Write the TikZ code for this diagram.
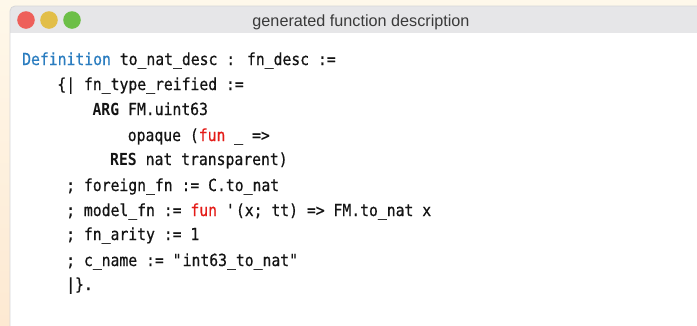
\documentclass[tikz,border=0pt]{standalone}
\usepackage{fontspec}
\setmainfont{Liberation Sans}
\newfontfamily\codefont[FakeStretch=0.888, UprightFeatures={FakeBold=0.6}]{DejaVu Sans Mono}

\definecolor{bgtop}{HTML}{FEF8EA}
\definecolor{bgbottom}{HTML}{FDE9D2}
\definecolor{titlebar}{HTML}{E6E6E8}
\definecolor{frameline}{HTML}{D6D6D8}
\definecolor{titletext}{HTML}{3A3A3A}
\definecolor{lightred}{HTML}{EE605A}
\definecolor{lightyellow}{HTML}{E2BE48}
\definecolor{lightgreen}{HTML}{6CBF47}
\definecolor{kwblue}{HTML}{2B7DC0}
\definecolor{kwred}{HTML}{E41B17}
\definecolor{codeink}{HTML}{141414}

\newcommand{\kwdef}[1]{\textcolor{kwblue}{#1}}
\newcommand{\kwfun}[1]{\textcolor{kwred}{#1}}
\newcommand{\kwbold}[1]{\textbf{#1}}

\tikzset{
  codeline/.style={anchor=base west, inner sep=0pt, text=codeink,
    font=\codefont\fontsize{16.6}{20}\selectfont},
  titlelabel/.style={anchor=base, inner sep=0pt, text=titletext,
    font=\fontsize{16.2}{19}\selectfont},
  lamp/.style={circle, inner sep=0pt, minimum size=17.6pt}
}

\begin{document}
\begin{tikzpicture}[x=1pt,y=-1pt]
  % page background
  \useasboundingbox (0,0) rectangle (697,325);
  \shade[top color=bgtop, bottom color=bgbottom] (0,0) rectangle (697,325);

  % window body and title bar
  \begin{scope}
    \clip[rounded corners=5pt] (10,6) rectangle (730,360);
    \fill[white] (10,6) rectangle (730,360);
    \fill[titlebar] (10,6) rectangle (730,33);
  \end{scope}
  \draw[frameline, line width=0.8pt, rounded corners=5pt] (10,360) -- (10,6) -- (730,6);

  % window controls
  \node[lamp, fill=lightred]    (close) at (26,20) {};
  \node[lamp, fill=lightyellow] (mini)  at (49,20) {};
  \node[lamp, fill=lightgreen]  (zoom)  at (72,20) {};
  \node[titlelabel] (title) at (361,26.5) {generated function description};

  % source text, one node per line, columns of 8.8 units
  \node[codeline] (l0) at (22,65)    {\kwdef{Definition} to\_nat\_desc : fn\_desc :=};
  \node[codeline] (l1) at (57.2,90)  {\{| fn\_type\_reified :=};
  \node[codeline] (l2) at (92.4,115) {\kwbold{ARG} FM.uint63};
  \node[codeline] (l3) at (127.6,141) {opaque (\kwfun{fun} \_ =>};
  \node[codeline] (l4) at (110,165)  {\kwbold{RES} nat transparent)};
  \node[codeline] (l5) at (66,191)   {; foreign\_fn := C.to\_nat};
  \node[codeline] (l6) at (66,216)   {; model\_fn := \kwfun{fun} \textquotesingle(x; tt) => FM.to\_nat x};
  \node[codeline] (l7) at (66,240)   {; fn\_arity := 1};
  \node[codeline] (l8) at (66,266)   {; c\_name := \textquotedbl int63\_to\_nat\textquotedbl};
  \node[codeline] (l9) at (66,290)   {|\}.};
\end{tikzpicture}
\end{document}
